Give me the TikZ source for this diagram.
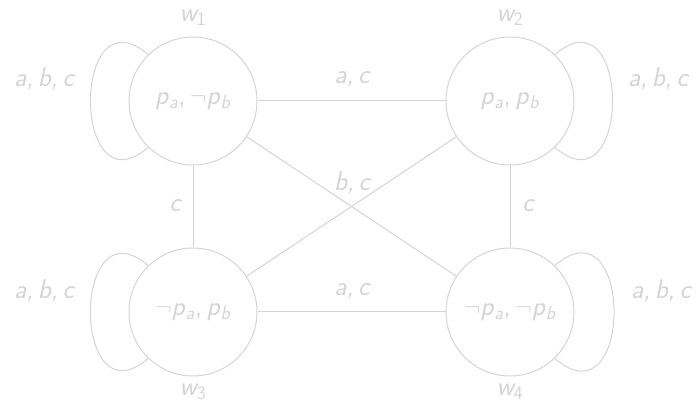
\documentclass[tikz,border=0pt]{standalone}
\usepackage{tikz}
\definecolor{lg}{RGB}{212,212,212}
\newcommand{\ip}[1]{\textit{p}\textsubscript{\textit{#1}}}
\newcommand{\nt}{$\neg$}
\begin{document}
\begin{tikzpicture}[x=1pt,y=1pt,
  world/.style={circle,draw=lg,line width=1pt,minimum size=128pt,inner sep=0pt,text=lg,font=\sffamily\fontsize{27}{30}\selectfont},
  lbl/.style={text=lg,font=\sffamily\itshape\fontsize{27}{30}\selectfont,inner sep=0pt},
  edge/.style={draw=lg,line width=1pt}]
\useasboundingbox (0,0) rectangle (699,407);
\node[world] (w1) at (193,306) {\ip{a},\,\nt\ip{b}};
\node[world] (w2) at (510,306) {\ip{a},\,\ip{b}};
\node[world] (w3) at (193,95) {\nt\ip{a},\,\ip{b}};
\node[world] (w4) at (510,95) {\nt\ip{a},\,\nt\ip{b}};
\node[lbl] (n1) at (193,389) {w\textsubscript{\upshape 1}};
\node[lbl] (n2) at (510,389) {w\textsubscript{\upshape 2}};
\node[lbl] (n3) at (193,15) {w\textsubscript{\upshape 3}};
\node[lbl] (n4) at (510,15) {w\textsubscript{\upshape 4}};
\draw[edge] (w1) -- (w2);
\draw[edge] (w3) -- (w4);
\draw[edge] (w1) -- (w3);
\draw[edge] (w2) -- (w4);
\draw[edge] (w1) -- (w4);
\draw[edge] (w2) -- (w3);
\draw[edge] (w1.134) .. controls +(-77,66) and +(-77,-66) .. (w1.226);
\draw[edge] (w3.134) .. controls +(-77,66) and +(-77,-66) .. (w3.226);
\draw[edge] (w2.46) .. controls +(77,66) and +(77,-66) .. (w2.-46);
\draw[edge] (w4.46) .. controls +(79,68) and +(79,-68) .. (w4.-46);
\node[lbl] (l1) at (44,328) {a,\,b,\,c};
\node[lbl] (l2) at (658,328) {a,\,b,\,c};
\node[lbl] (l3) at (44,116) {a,\,b,\,c};
\node[lbl] (l4) at (661,116) {a,\,b,\,c};
\node[lbl] (e12) at (352,328) {a,\,c};
\node[lbl] (e34) at (352,116) {a,\,c};
\node[lbl] (e13) at (175,201) {c};
\node[lbl] (e24) at (528,201) {c};
\node[lbl] (ed) at (352,224) {b,\,c};
\end{tikzpicture}
\end{document}
